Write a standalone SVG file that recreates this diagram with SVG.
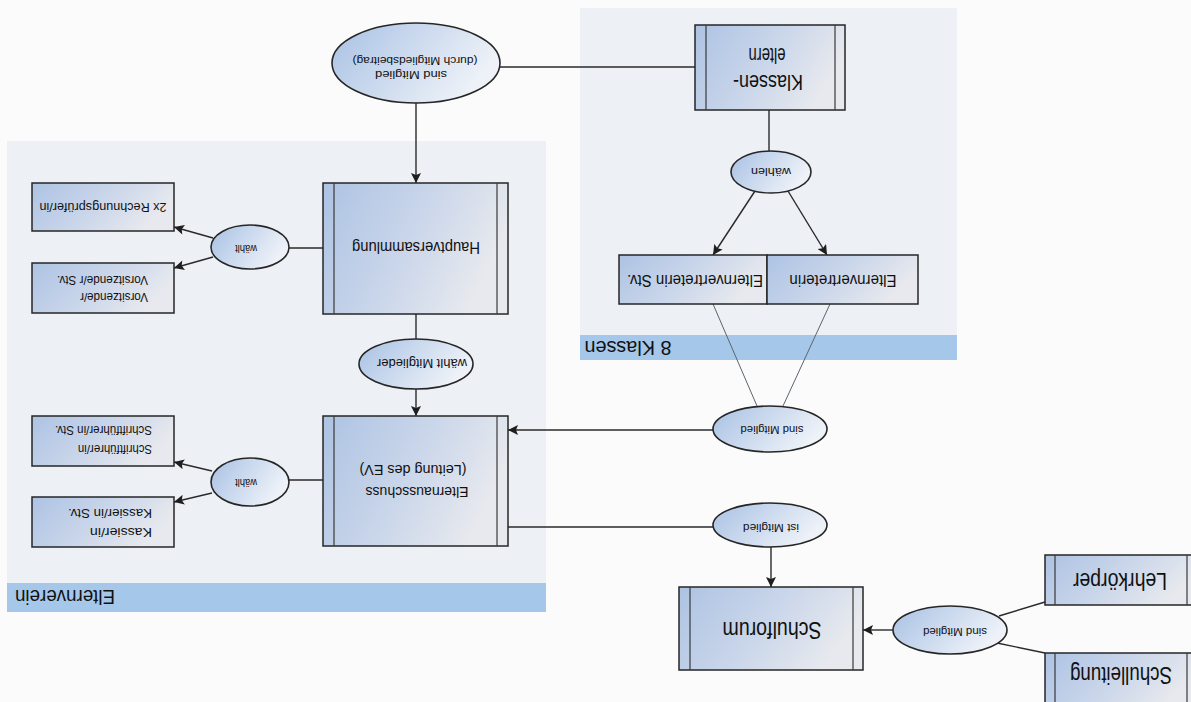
<svg xmlns="http://www.w3.org/2000/svg" width="1191" height="702" viewBox="0 0 1191 702">
<defs>
<linearGradient id="gBox" x1="0" y1="0" x2="1" y2="0.35">
<stop offset="0" stop-color="#adc3e3"/>
<stop offset="0.55" stop-color="#cad6ea"/>
<stop offset="1" stop-color="#e7e9ee"/>
</linearGradient>
<linearGradient id="gEll" x1="0" y1="0" x2="1" y2="0.4">
<stop offset="0" stop-color="#a8c1e4"/>
<stop offset="1" stop-color="#eef2f8"/>
</linearGradient>
<marker id="arr" viewBox="0 0 10 10" refX="10" refY="5" markerWidth="11" markerHeight="10" markerUnits="userSpaceOnUse" orient="auto">
<path d="M0,0 L10,5 L0,10 L2,5 z" fill="#1e1e1e"/>
</marker>
<style>
.panel{fill:#edf0f4}
.bar{fill:#a5c7ea}
.box{fill:url(#gBox);stroke:#262626;stroke-width:1.5}
.inner{stroke:#3a3a3a;stroke-width:1.2}
.ell{fill:url(#gEll);stroke:#262626;stroke-width:1.6}
.c{fill:none;stroke:#2a2a2a;stroke-width:1.4}
.thin{fill:none;stroke:#5a6470;stroke-width:1}
.a{marker-end:url(#arr)}
text{font-family:"Liberation Sans",Arial,sans-serif;fill:#111;text-anchor:middle;dominant-baseline:central}
</style>
</defs>
<rect width="1191" height="702" fill="#fbfbfb"/>

<g id="panel-elternverein">
<rect class="panel" x="7" y="141" width="539" height="471"/>
<rect class="bar" x="7" y="583" width="539" height="29"/>
<text x="65" y="597" font-size="20" textLength="100" lengthAdjust="spacingAndGlyphs" transform="rotate(180 65 597)">Elternverein</text>
</g>
<g id="panel-klassen">
<rect class="panel" x="580" y="8" width="377" height="352"/>
<rect class="bar" x="580" y="335" width="377" height="25"/>
<text x="628" y="348" font-size="20" textLength="87" lengthAdjust="spacingAndGlyphs" transform="rotate(180 628 348)">8 Klassen</text>
</g>

<g id="connectors">
<path class="c" d="M695,67 H500"/>
<path class="c a" d="M416,103 V183"/>
<path class="c" d="M416,314 V339"/>
<path class="c a" d="M416,389 V416"/>
<path class="c" d="M323,248 H288"/>
<path class="c a" d="M213,238 L174,227"/>
<path class="c a" d="M213,257 L174,268"/>
<path class="c" d="M323,480 H288"/>
<path class="c a" d="M212,471 L174,462"/>
<path class="c a" d="M212,493 L174,502"/>
<path class="c" d="M769,110 V151"/>
<path class="c a" d="M755,191 L713,255"/>
<path class="c a" d="M788,191 L827,255"/>
<path class="thin" d="M713,304 L757,406"/>
<path class="thin" d="M830,304 L783,406"/>
<path class="c a" d="M713,430 H508"/>
<path class="c" d="M713,527 H508"/>
<path class="c a" d="M771,547 V587"/>
<path class="c a" d="M893,630 H863"/>
<path class="c" d="M1045,602 L999,616"/>
<path class="c" d="M1045,653 L997,643"/>
</g>

<g id="node-klasseneltern">
<rect class="box" x="695" y="25" width="150" height="85"/>
<path class="inner" d="M706,25 V110 M835,25 V110"/>
<text x="768" y="82" font-size="22" textLength="70" lengthAdjust="spacingAndGlyphs" transform="rotate(180 768 82)">Klassen-</text>
<text x="767" y="55" font-size="22" textLength="37" lengthAdjust="spacingAndGlyphs" transform="rotate(180 767 55)">eltern</text>
</g>

<g id="node-mitgliedsbeitrag">
<ellipse class="ell" cx="416" cy="63" rx="84" ry="40"/>
<text x="415" y="61" font-size="11.5" textLength="125" lengthAdjust="spacingAndGlyphs" transform="rotate(180 415 61)">(durch Mitgliedsbeitrag)</text>
<text x="411" y="75" font-size="11.5" textLength="72" lengthAdjust="spacingAndGlyphs" transform="rotate(180 411 75)">sind Mitglied</text>
</g>

<g id="node-waehlen">
<ellipse class="ell" cx="771" cy="172" rx="40" ry="21"/>
<text x="771" y="172" font-size="11" textLength="40" lengthAdjust="spacingAndGlyphs" transform="rotate(180 771 172)">wählen</text>
</g>

<g id="node-elternvertreter">
<rect class="box" x="619" y="255" width="148" height="49"/>
<rect class="box" x="767" y="255" width="151" height="49"/>
<text x="695" y="280" font-size="16" textLength="136" lengthAdjust="spacingAndGlyphs" transform="rotate(180 695 280)">Elternvertreterin Stv.</text>
<text x="843" y="280" font-size="16" textLength="107" lengthAdjust="spacingAndGlyphs" transform="rotate(180 843 280)">Elternvertreterin</text>
</g>

<g id="node-hauptversammlung">
<rect class="box" x="323" y="183" width="185" height="131"/>
<path class="inner" d="M334,183 V314 M497,183 V314"/>
<text x="416" y="247" font-size="16" textLength="128" lengthAdjust="spacingAndGlyphs" transform="rotate(180 416 247)">Hauptversammlung</text>
</g>

<g id="node-waehlt1">
<ellipse class="ell" cx="250" cy="247" rx="39" ry="22"/>
<text x="246" y="248" font-size="10" textLength="22" lengthAdjust="spacingAndGlyphs" transform="rotate(180 246 248)">wählt</text>
</g>

<g id="node-rechnungspruefer">
<rect class="box" x="32" y="183" width="142" height="48"/>
<text x="103" y="207" font-size="12" textLength="127" lengthAdjust="spacingAndGlyphs" transform="rotate(180 103 207)">2x Rechnungsprüfer/in</text>
</g>

<g id="node-vorsitzende">
<rect class="box" x="32" y="263" width="142" height="50"/>
<text x="114" y="297" font-size="12" textLength="68" lengthAdjust="spacingAndGlyphs" transform="rotate(180 114 297)">Vorsitzende/r</text>
<text x="102.5" y="280" font-size="12" textLength="91" lengthAdjust="spacingAndGlyphs" transform="rotate(180 102.5 280)">Vorsitzende/r Stv.</text>
</g>

<g id="node-waehltmitglieder">
<ellipse class="ell" cx="416" cy="364" rx="57" ry="25"/>
<text x="422" y="363" font-size="12" textLength="90" lengthAdjust="spacingAndGlyphs" transform="rotate(180 422 363)">wählt Mitglieder</text>
</g>

<g id="node-elternausschuss">
<rect class="box" x="323" y="416" width="185" height="130"/>
<path class="inner" d="M334,416 V546 M497,416 V546"/>
<text x="417" y="492" font-size="15" textLength="103" lengthAdjust="spacingAndGlyphs" transform="rotate(180 417 492)">Elternausschuss</text>
<text x="413" y="470" font-size="15" textLength="107" lengthAdjust="spacingAndGlyphs" transform="rotate(180 413 470)">(Leitung des EV)</text>
</g>

<g id="node-waehlt2">
<ellipse class="ell" cx="250" cy="482" rx="39" ry="24"/>
<text x="246" y="482" font-size="10" textLength="22" lengthAdjust="spacingAndGlyphs" transform="rotate(180 246 482)">wählt</text>
</g>

<g id="node-schriftfuehrer">
<rect class="box" x="32" y="416" width="142" height="50"/>
<text x="115" y="449" font-size="12" textLength="74" lengthAdjust="spacingAndGlyphs" transform="rotate(180 115 449)">Schriftführer/in</text>
<text x="103.5" y="430" font-size="12" textLength="97" lengthAdjust="spacingAndGlyphs" transform="rotate(180 103.5 430)">Schriftführer/in Stv.</text>
</g>

<g id="node-kassier">
<rect class="box" x="32" y="497" width="142" height="50"/>
<text x="121" y="532" font-size="12" textLength="62" lengthAdjust="spacingAndGlyphs" transform="rotate(180 121 532)">Kassier/in</text>
<text x="110" y="513" font-size="12" textLength="84" lengthAdjust="spacingAndGlyphs" transform="rotate(180 110 513)">Kassier/in Stv.</text>
</g>

<g id="node-sindmitglied-ev">
<ellipse class="ell" cx="770" cy="429" rx="57" ry="23"/>
<text x="772" y="430" font-size="11" textLength="63" lengthAdjust="spacingAndGlyphs" transform="rotate(180 772 430)">sind Mitglied</text>
</g>

<g id="node-istmitglied">
<ellipse class="ell" cx="770" cy="525" rx="57" ry="22"/>
<text x="771" y="528" font-size="11" textLength="56" lengthAdjust="spacingAndGlyphs" transform="rotate(180 771 528)">ist Mitglied</text>
</g>

<g id="node-schulforum">
<rect class="box" x="679" y="587" width="184" height="83"/>
<path class="inner" d="M690,587 V670 M853,587 V670"/>
<text x="772" y="630" font-size="24" textLength="99" lengthAdjust="spacingAndGlyphs" transform="rotate(180 772 630)">Schulforum</text>
</g>

<g id="node-sindmitglied-sf">
<ellipse class="ell" cx="950" cy="630" rx="57" ry="24"/>
<text x="955" y="632" font-size="11" textLength="64" lengthAdjust="spacingAndGlyphs" transform="rotate(180 955 632)">sind Mitglied</text>
</g>

<g id="node-lehrkoerper">
<rect class="box" x="1045" y="555" width="152" height="50"/>
<path class="inner" d="M1055,555 V605 M1187,555 V605"/>
<text x="1120" y="581" font-size="23" textLength="94" lengthAdjust="spacingAndGlyphs" transform="rotate(180 1120 581)">Lehrkörper</text>
</g>

<g id="node-schulleitung">
<rect class="box" x="1045" y="653" width="152" height="55"/>
<path class="inner" d="M1055,653 V708 M1187,653 V708"/>
<text x="1121" y="675" font-size="23" textLength="102" lengthAdjust="spacingAndGlyphs" transform="rotate(180 1121 675)">Schulleitung</text>
</g>
</svg>
